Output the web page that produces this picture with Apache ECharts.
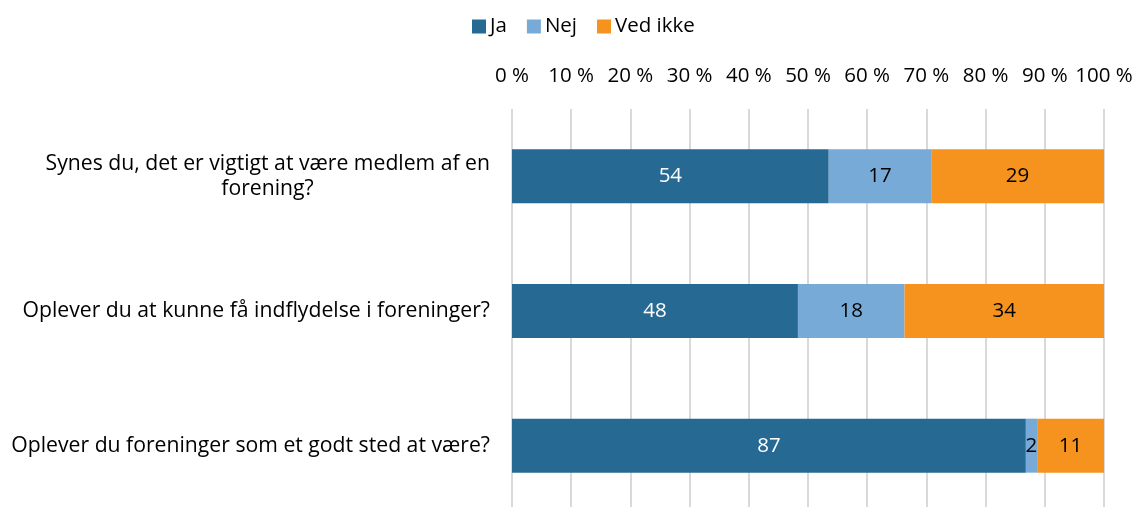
<!DOCTYPE html>
<html>

<head>
    <meta charset="utf-8">
    <script src="https://cdn.jsdelivr.net/npm/echarts@6.0.0/dist/echarts.min.js"></script>
    <style>
        body { margin: 0; background: #fff; overflow: hidden; }
    </style>
</head>

<body>
    <div id="echartsMain" style="width: 1136px; height: 520px;"></div>
</body>

</html>

<script type="text/javascript">
    // spørgsmål, øverste først (kategori-aksen er vendt om)
    let questions = [
        'Synes du, det er vigtigt at være medlem af en\nforening?',
        'Oplever du at kunne få indflydelse i foreninger?',
        'Oplever du foreninger som et godt sted at være?'
    ]
    let ja = [53.5, 48.3, 86.8]
    let nej = [17.3, 18.0, 1.9]
    let vedIkke = [29.2, 33.7, 11.3]
    let tickLabels = ['0 %', '10 %', '20 %', '30 %', '40 %', '50 %', '60 %', '70 %', '80 %', '90 %', '100 %']

    let font = 'Open Sans'
    let fs = 20.5
    let catFs = 21.2

    function draw() {
        let myChart = echarts.init(document.getElementById('echartsMain'));

        let seriesDef = [
            { name: 'Ja', data: ja, color: '#266a93', label: '#ffffff' },
            { name: 'Nej', data: nej, color: '#78aad7', label: '#000000' },
            { name: 'Ved ikke', data: vedIkke, color: '#f6931f', label: '#000000' }
        ]

        var option = {
            animation: false,
            textStyle: { fontFamily: font },
            legend: {
                data: ['Ja', 'Nej', 'Ved ikke'],
                top: 11,
                left: 467,
                itemWidth: 14,
                itemHeight: 14,
                itemGap: 20,
                icon: 'rect',
                textStyle: { fontSize: fs, color: '#000', fontFamily: font, padding: [0, 0, 0, -1] }
            },
            grid: {
                left: 512,
                top: 109,
                width: 592,
                height: 404
            },
            xAxis: {
                type: 'value',
                position: 'top',
                min: 0,
                max: 100,
                interval: 10,
                axisLine: { show: false },
                axisTick: { show: false },
                splitLine: { lineStyle: { color: '#d9d9d9', width: 2 } },
                axisLabel: {
                    margin: 22,
                    fontSize: fs,
                    color: '#000',
                    fontFamily: font,
                    formatter: v => tickLabels[Math.round(v / 10)]
                }
            },
            yAxis: {
                type: 'category',
                inverse: true,
                data: questions,
                axisLine: { show: false },
                axisTick: { show: false },
                axisLabel: {
                    margin: 22,
                    fontSize: catFs,
                    color: '#000',
                    fontFamily: font,
                    lineHeight: 25,
                    formatter: function (v) {
                        let parts = v.split('\n')
                        if (parts.length === 1) return v
                        return '{a|' + parts[0] + '}\n{c|' + parts[1] + '}'
                    },
                    rich: {
                        a: { fontSize: catFs, color: '#000', fontFamily: font, lineHeight: 25 },
                        c: { fontSize: catFs, color: '#000', fontFamily: font, lineHeight: 25, width: 445, align: 'center' }
                    }
                }
            },
            series: seriesDef.map(s => ({
                name: s.name,
                type: 'bar',
                stack: 'total',
                barWidth: 54,
                data: s.data,
                itemStyle: { color: s.color },
                label: {
                    show: true,
                    position: 'inside',
                    color: s.label,
                    fontSize: fs,
                    fontFamily: font,
                    formatter: p => Math.round(p.value)
                }
            }))
        };
        myChart.setOption(option);
    }

    draw()
</script>
